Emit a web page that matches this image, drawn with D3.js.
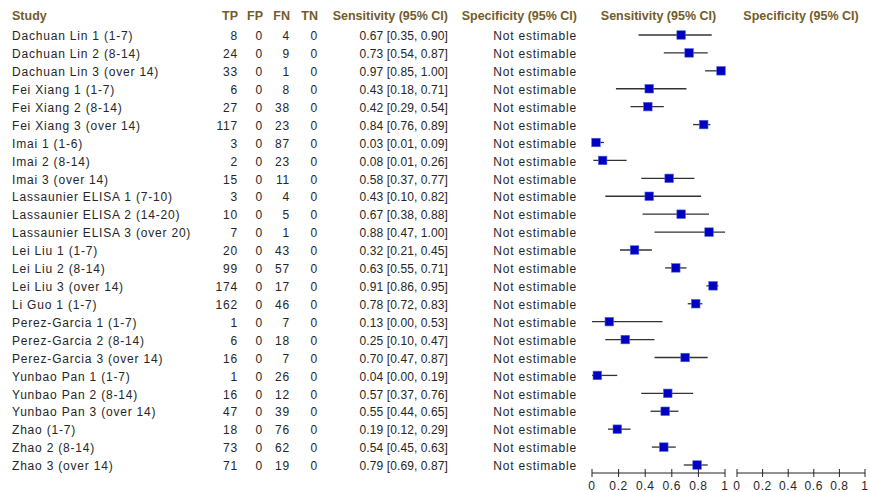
<!DOCTYPE html>
<html>
<head>
<meta charset="utf-8">
<script src="https://cdn.jsdelivr.net/npm/d3@7"></script>
<style>
  body { margin: 0; background: #fff; }
  svg { display: block; }
  .cell { font-family: "Liberation Sans", Arial, sans-serif; font-size: 12px; letter-spacing: 0.8px; fill: #262626; }
  .cell.num { letter-spacing: 0.1px; }
  .head { font-family: "Liberation Sans", Arial, sans-serif; font-size: 12.5px; font-weight: bold; fill: #735c2a; }
  .tick text { font-family: "Liberation Sans", Arial, sans-serif; font-size: 12px; letter-spacing: 0.6px; fill: #262626; }
</style>
</head>
<body>
<div id="chart"></div>
<script>
const studies = [
  'Dachuan Lin 1 (1-7)', 'Dachuan Lin 2 (8-14)', 'Dachuan Lin 3 (over 14)',
  'Fei Xiang 1 (1-7)', 'Fei Xiang 2 (8-14)', 'Fei Xiang 3 (over 14)',
  'Imai 1 (1-6)', 'Imai 2 (8-14)', 'Imai 3 (over 14)',
  'Lassaunier ELISA 1 (7-10)', 'Lassaunier ELISA 2 (14-20)', 'Lassaunier ELISA 3 (over 20)',
  'Lei Liu 1 (1-7)', 'Lei Liu 2 (8-14)', 'Lei Liu 3 (over 14)', 'Li Guo 1 (1-7)',
  'Perez-Garcia 1 (1-7)', 'Perez-Garcia 2 (8-14)', 'Perez-Garcia 3 (over 14)',
  'Yunbao Pan 1 (1-7)', 'Yunbao Pan 2 (8-14)', 'Yunbao Pan 3 (over 14)',
  'Zhao (1-7)', 'Zhao 2 (8-14)', 'Zhao 3 (over 14)'
];
const tp = [8, 24, 33, 6, 27, 117, 3, 2, 15, 3, 10, 7, 20, 99, 174, 162, 1, 6, 16, 1, 16, 47, 18, 73, 71];
const fp = [0, 0, 0, 0, 0, 0, 0, 0, 0, 0, 0, 0, 0, 0, 0, 0, 0, 0, 0, 0, 0, 0, 0, 0, 0];
const fn = [4, 9, 1, 8, 38, 23, 87, 23, 11, 4, 5, 1, 43, 57, 17, 46, 7, 18, 7, 26, 12, 39, 76, 62, 19];
const tn = [0, 0, 0, 0, 0, 0, 0, 0, 0, 0, 0, 0, 0, 0, 0, 0, 0, 0, 0, 0, 0, 0, 0, 0, 0];
const sens   = [0.67, 0.73, 0.97, 0.43, 0.42, 0.84, 0.03, 0.08, 0.58, 0.43, 0.67, 0.88, 0.32, 0.63, 0.91, 0.78, 0.13, 0.25, 0.70, 0.04, 0.57, 0.55, 0.19, 0.54, 0.79];
const sensLo = [0.35, 0.54, 0.85, 0.18, 0.29, 0.76, 0.01, 0.01, 0.37, 0.10, 0.38, 0.47, 0.21, 0.55, 0.86, 0.72, 0.00, 0.10, 0.47, 0.00, 0.37, 0.44, 0.12, 0.45, 0.69];
const sensHi = [0.90, 0.87, 1.00, 0.71, 0.54, 0.89, 0.09, 0.26, 0.77, 0.82, 0.88, 1.00, 0.45, 0.71, 0.95, 0.83, 0.53, 0.47, 0.87, 0.19, 0.76, 0.65, 0.29, 0.63, 0.87];
const specText = 'Not estimable';
const axisTicks = [0, 0.2, 0.4, 0.6, 0.8, 1];

const width = 870, height = 492;
const f2 = d3.format('.2f');
const rows = studies.map((s, i) => ({
  study: s, tp: tp[i], fp: fp[i], fn: fn[i], tn: tn[i],
  est: sens[i], lo: sensLo[i], hi: sensHi[i]
}));

const svg = d3.select('#chart').append('svg')
  .attr('width', width)
  .attr('height', height);

// row positions
const y = d3.scalePoint()
  .domain(studies)
  .range([36, 466]);

const xSens = d3.scaleLinear().domain([0, 1]).range([592, 725]);
const xSpec = d3.scaleLinear().domain([0, 1]).range([737, 865]);

// table columns
const columns = [
  { head: 'Study', x: 12, anchor: 'start', cls: 'cell', value: d => d.study },
  { head: 'TP', x: 238, anchor: 'end', cls: 'cell', value: d => d.tp },
  { head: 'FP', x: 263, anchor: 'end', cls: 'cell', value: d => d.fp },
  { head: 'FN', x: 290, anchor: 'end', cls: 'cell', value: d => d.fn },
  { head: 'TN', x: 318, anchor: 'end', cls: 'cell', value: d => d.tn },
  { head: 'Sensitivity (95% CI)', x: 448, anchor: 'end', cls: 'cell num', value: d => `${f2(d.est)} [${f2(d.lo)}, ${f2(d.hi)}]` },
  { head: 'Specificity (95% CI)', x: 577, anchor: 'end', cls: 'cell', value: d => specText }
];

const headY = 16;
svg.selectAll('.head')
  .data(columns)
  .enter()
  .append('text')
  .attr('class', 'head')
  .attr('x', d => d.x)
  .attr('y', headY)
  .attr('dy', '0.35em')
  .attr('text-anchor', d => d.anchor)
  .text(d => d.head);

svg.append('text').attr('class', 'head')
  .attr('x', (xSens(0) + xSens(1)) / 2).attr('y', headY).attr('dy', '0.35em')
  .attr('text-anchor', 'middle').text('Sensitivity (95% CI)');
svg.append('text').attr('class', 'head')
  .attr('x', (xSpec(0) + xSpec(1)) / 2).attr('y', headY).attr('dy', '0.35em')
  .attr('text-anchor', 'middle').text('Specificity (95% CI)');

for (const col of columns) {
  svg.append('g').selectAll('text')
    .data(rows)
    .enter()
    .append('text')
    .attr('class', col.cls)
    .attr('x', col.x)
    .attr('y', d => y(d.study))
    .attr('dy', '0.35em')
    .attr('text-anchor', col.anchor)
    .text(col.value);
}

// CI lines
const g = svg.append('g');
g.selectAll('.ci')
  .data(rows)
  .enter()
  .append('line')
  .attr('x1', d => xSens(d.lo))
  .attr('x2', d => xSens(d.hi))
  .attr('y1', d => y(d.study) - 1)
  .attr('y2', d => y(d.study) - 1)
  .attr('stroke', '#333')
  .attr('stroke-width', 1.3);

// point estimates
const sq = 8.5;
g.selectAll('.pt')
  .data(rows)
  .enter()
  .append('rect')
  .attr('x', d => xSens(d.est) - sq / 2)
  .attr('y', d => y(d.study) - 1 - sq / 2)
  .attr('width', sq)
  .attr('height', sq)
  .attr('fill', '#0000c0')
  .attr('stroke', '#4a5ee0')
  .attr('stroke-width', 0.6);

// axes
const axisY = 473;
function drawAxis(scale) {
  const ax = svg.append('g').attr('transform', `translate(0,${axisY})`);
  ax.append('line')
    .attr('x1', scale(0)).attr('x2', scale(1))
    .attr('stroke', '#222').attr('stroke-width', 1);
  const t = ax.selectAll('.tick')
    .data(axisTicks)
    .enter()
    .append('g')
    .attr('class', 'tick')
    .attr('transform', d => `translate(${scale(d)},0)`);
  t.append('line').attr('y1', -4).attr('y2', 4).attr('stroke', '#222');
  t.append('text')
    .attr('y', 13)
    .attr('dy', '0.35em')
    .attr('text-anchor', 'middle')
    .text(d => d3.format('~g')(d));
}
drawAxis(xSens);
drawAxis(xSpec);
</script>
</body>
</html>
